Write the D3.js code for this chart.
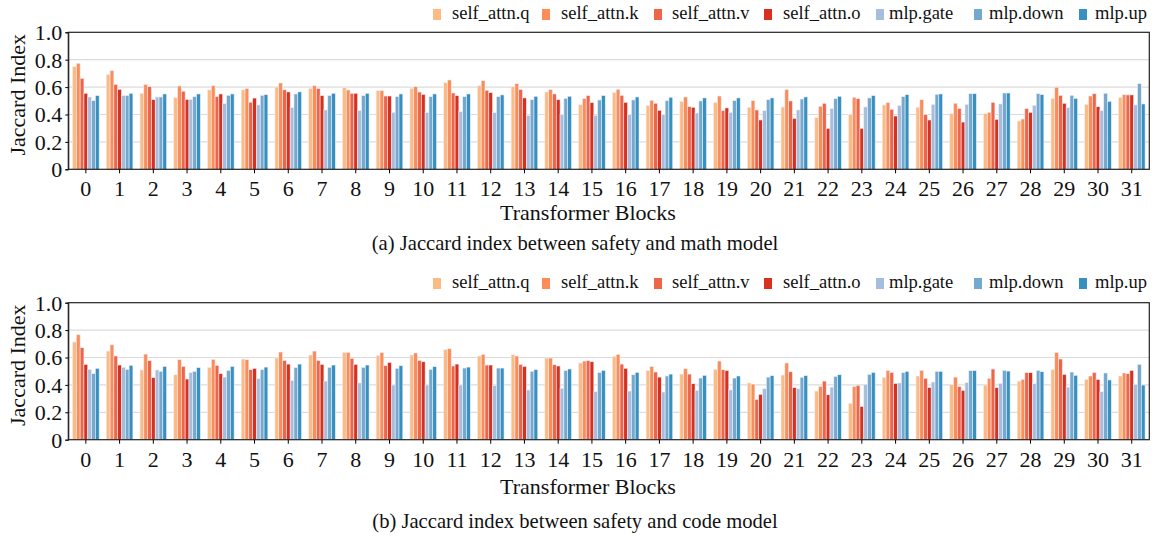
<!DOCTYPE html>
<html><head><meta charset="utf-8">
<script src="https://cdn.jsdelivr.net/npm/d3@7"></script>
<style>body{margin:0;background:#fff}svg{display:block}text{font-family:"Liberation Serif","Times New Roman",serif;fill:#111}</style>
</head><body><svg id="c" width="1152" height="538"></svg>
<script>
const blocks = d3.range(32).map(String);
const seriesNames = ["self_attn.q","self_attn.k","self_attn.v","self_attn.o","mlp.gate","mlp.down","mlp.up"];
const seriesColors = ["#fdbb84","#fc8d59","#ef6548","#d7301f","#a6bddb","#74a9cf","#3690c0"];
const yTicks = [0,0.2,0.4,0.6,0.8,1.0];

// Panel (a): safety vs math
const mathQ = [0.749,0.691,0.555,0.523,0.58,0.58,0.60,0.59,0.596,0.574,0.591,0.633,0.611,0.603,0.564,0.472,0.560,0.465,0.496,0.487,0.453,0.455,0.377,0.399,0.470,0.453,0.406,0.406,0.353,0.518,0.474,0.523];
const mathK = [0.774,0.720,0.620,0.608,0.61,0.59,0.63,0.61,0.579,0.574,0.603,0.652,0.647,0.625,0.582,0.516,0.584,0.504,0.528,0.535,0.501,0.582,0.460,0.526,0.487,0.508,0.482,0.416,0.367,0.599,0.535,0.545];
const mathV = [0.664,0.620,0.603,0.57,0.53,0.49,0.58,0.59,0.555,0.535,0.564,0.557,0.577,0.582,0.550,0.538,0.540,0.482,0.457,0.428,0.433,0.499,0.482,0.516,0.438,0.399,0.443,0.489,0.443,0.540,0.552,0.543];
const mathO = [0.555,0.584,0.508,0.51,0.55,0.52,0.565,0.538,0.555,0.535,0.547,0.538,0.560,0.521,0.508,0.487,0.489,0.431,0.453,0.448,0.360,0.372,0.299,0.299,0.389,0.360,0.345,0.365,0.416,0.482,0.457,0.543];
const mathGate = [0.528,0.538,0.528,0.51,0.48,0.47,0.45,0.433,0.428,0.416,0.414,0.421,0.414,0.392,0.399,0.394,0.399,0.399,0.411,0.416,0.428,0.433,0.443,0.455,0.465,0.474,0.474,0.477,0.467,0.450,0.428,0.470];
const mathDown = [0.501,0.538,0.528,0.53,0.54,0.54,0.55,0.538,0.538,0.530,0.530,0.530,0.530,0.508,0.518,0.506,0.506,0.501,0.499,0.501,0.508,0.513,0.516,0.521,0.530,0.547,0.552,0.557,0.552,0.540,0.555,0.625];
const mathUp = [0.538,0.555,0.550,0.55,0.55,0.545,0.565,0.555,0.555,0.550,0.550,0.550,0.543,0.533,0.533,0.538,0.528,0.526,0.521,0.521,0.521,0.528,0.533,0.538,0.545,0.550,0.552,0.557,0.545,0.518,0.496,0.477];

// Panel (b): safety vs code
const codeQ = [0.713,0.647,0.509,0.474,0.528,0.589,0.596,0.618,0.637,0.613,0.618,0.657,0.611,0.620,0.596,0.560,0.608,0.504,0.479,0.513,0.414,0.472,0.355,0.265,0.455,0.465,0.401,0.399,0.428,0.511,0.440,0.465];
const codeK = [0.766,0.693,0.625,0.584,0.586,0.584,0.640,0.647,0.637,0.637,0.633,0.664,0.623,0.611,0.596,0.574,0.623,0.535,0.518,0.574,0.406,0.560,0.389,0.389,0.506,0.506,0.457,0.448,0.440,0.637,0.465,0.487];
const codeV = [0.672,0.611,0.577,0.535,0.543,0.511,0.579,0.579,0.594,0.540,0.579,0.538,0.545,0.550,0.547,0.577,0.552,0.494,0.479,0.511,0.294,0.496,0.428,0.397,0.491,0.448,0.389,0.516,0.489,0.589,0.491,0.482];
const codeO = [0.550,0.545,0.453,0.443,0.482,0.521,0.552,0.550,0.550,0.564,0.569,0.552,0.545,0.535,0.538,0.569,0.521,0.457,0.409,0.506,0.331,0.380,0.328,0.243,0.411,0.380,0.360,0.380,0.489,0.477,0.440,0.506];
const codeGate = [0.513,0.528,0.509,0.489,0.457,0.445,0.433,0.428,0.414,0.399,0.399,0.399,0.394,0.363,0.375,0.350,0.355,0.348,0.360,0.363,0.372,0.372,0.384,0.404,0.414,0.421,0.416,0.411,0.409,0.384,0.350,0.404];
const codeDown = [0.482,0.513,0.499,0.499,0.506,0.511,0.526,0.528,0.528,0.521,0.513,0.523,0.523,0.499,0.504,0.489,0.474,0.465,0.450,0.450,0.457,0.455,0.462,0.477,0.489,0.499,0.504,0.506,0.506,0.494,0.487,0.550];
const codeUp = [0.521,0.543,0.535,0.526,0.535,0.530,0.552,0.545,0.545,0.540,0.533,0.530,0.523,0.511,0.516,0.506,0.491,0.479,0.470,0.465,0.467,0.467,0.474,0.491,0.499,0.499,0.504,0.501,0.496,0.470,0.436,0.399];

const panels = [
  {series:[mathQ,mathK,mathV,mathO,mathGate,mathDown,mathUp], top:32.3, bottom:169.3, legendY:14, tickY:196, titleY:220, caption:"(a) Jaccard index between safety and math model", capY:250},
  {series:[codeQ,codeK,codeV,codeO,codeGate,codeDown,codeUp], top:302.7, bottom:439.7, legendY:283, tickY:467, titleY:494, caption:"(b) Jaccard index between safety and code model", capY:528}
];

const svg = d3.select("#c");
const left = 68.3, right = 1149.3;
const x = d3.scaleBand().domain(blocks).range([left,right]).paddingInner(0.21).paddingOuter(0.125);
const xs = d3.scaleBand().domain(seriesNames).range([0,x.bandwidth()]);
const legX = [433,542,654,764,876,974,1079];
const legT = [452,561,672,783,889,989,1095];

panels.forEach(p => {
  const g = svg.append("g");
  const y = d3.scaleLinear().domain([0,1]).range([p.bottom,p.top]);
  g.append("g").selectAll("line").data([0.2,0.4,0.6,0.8]).join("line")
    .attr("x1",left).attr("x2",right).attr("y1",d=>y(d)).attr("y2",d=>y(d))
    .attr("stroke","#dcdcdc").attr("stroke-width",1.2);
  seriesNames.forEach((s,i) => {
    g.append("g").selectAll("rect").data(p.series[i]).join("rect")
      .attr("x",(d,j)=>x(blocks[j])+xs(s)).attr("width",xs.bandwidth())
      .attr("y",d=>y(d)).attr("height",d=>y(0)-y(d))
      .attr("fill",seriesColors[i]).attr("stroke","#eeeef6").attr("stroke-width",0.6);
  });
  g.append("rect").attr("x",left).attr("y",p.top).attr("width",right-left).attr("height",p.bottom-p.top)
    .attr("fill","none").attr("stroke","#222").attr("stroke-width",1.2);
  const ya = g.append("g").attr("transform",`translate(${left},0)`)
    .call(d3.axisLeft(y).tickValues(yTicks).tickFormat(d=>d===0?"0":d3.format(".1f")(d)).tickSize(3).tickPadding(3));
  ya.select(".domain").attr("stroke","#222");
  ya.selectAll("text").style("font-size","22px").style("font-family","Liberation Serif").attr("fill","#111").attr("dy","0.34em");
  const xa = g.append("g").attr("transform",`translate(0,${p.bottom})`)
    .call(d3.axisBottom(x).tickSize(4).tickPadding(6));
  xa.select(".domain").remove();
  xa.selectAll("text").style("font-size","22px").style("font-family","Liberation Serif").attr("fill","#111").attr("y",null).attr("dy",null)
    .attr("transform",`translate(0,${p.tickY-p.bottom})`);
  g.append("text").attr("x",588).attr("y",p.titleY).attr("text-anchor","middle").style("font-size","22px").text("Transformer Blocks");
  g.append("text").attr("transform",`translate(25,${(p.top+p.bottom)/2-6}) rotate(-90)`).attr("text-anchor","middle").style("font-size","22px").text("Jaccard Index");
  g.append("text").attr("x",575).attr("y",p.capY).attr("text-anchor","middle").style("font-size","20.6px").text(p.caption);
  const lg = g.append("g");
  seriesNames.forEach((s,i)=>{
    lg.append("rect").attr("x",legX[i]).attr("y",p.legendY-5).attr("width",8).attr("height",11).attr("fill",seriesColors[i]);
    lg.append("text").attr("x",legT[i]).attr("y",p.legendY+5).style("font-size","18.5px").text(s);
  });
});
</script></body></html>
